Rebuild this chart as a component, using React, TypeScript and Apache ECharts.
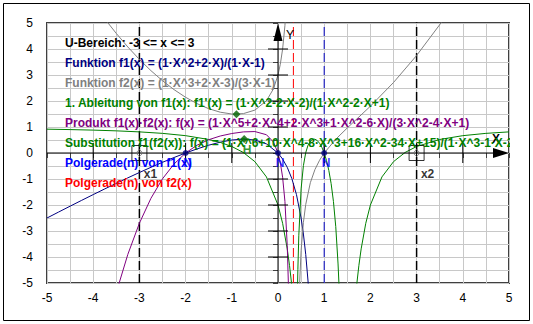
import React, { useEffect, useRef } from 'react';
import * as echarts from 'echarts';

// ---------- data ----------
const f1Points: [number, number][] = [
  [-5, -2.5], [-4.75, -2.2717], [-4.5, -2.0455], [-4.25, -1.8214], [-4, -1.6], [-3.75, -1.3816],
  [-3.5, -1.1667], [-3.25, -0.9559], [-3, -0.75], [-2.75, -0.55], [-2.5, -0.3571], [-2.25, -0.1731],
  [-2, 0], [-1.75, 0.1591], [-1.5, 0.3], [-1.25, 0.4167], [-1, 0.5], [-0.75, 0.5357], [-0.5, 0.5],
  [-0.25, 0.35], [0, 0], [0.1, -0.2333], [0.2, -0.55], [0.3, -0.9857], [0.4, -1.6], [0.5, -2.5],
  [0.55, -3.1167], [0.6, -3.9], [0.65, -4.9214], [0.7, -6.3],
];
const f2LeftPoints: [number, number][] = [
  [-3.75, 5.16], [-3.5, 4.598], [-3.25, 4.077], [-3, 3.6], [-2.75, 3.167], [-2.5, 2.779],
  [-2.25, 2.4375], [-2, 2.1429], [-1.75, 1.8975], [-1.5, 1.7045], [-1.25, 1.569], [-1, 1.5],
  [-0.75, 1.5144], [-0.5, 1.65], [-0.25, 2.0089], [-0.1, 2.4623], [0, 3], [0.05, 3.4116],
  [0.1, 3.9986], [0.15, 4.903], [0.2, 6.48],
];
const f2RightPoints: [number, number][] = [
  [0.4, -10.68], [0.45, -5.74], [0.5, -3.75], [0.55, -2.667], [0.6, -1.98], [0.7, -1.1427],
  [0.8, -0.6343], [0.9, -0.277], [1, 0], [1.25, 0.5284], [1.5, 0.9643], [2, 1.8], [2.5, 2.7115],
  [3, 3.75], [3.5, 4.934], [3.75, 5.584],
];
const derivLeftPoints: [number, number][] = [
  [-5, 0.9167], [-4.5, 0.9008], [-4, 0.88], [-3.5, 0.8519], [-3, 0.8125], [-2.5, 0.7551],
  [-2, 0.6667], [-1.5, 0.52], [-1.25, 0.4074], [-1, 0.25], [-0.75, 0.0204], [-0.5, -0.3333],
  [-0.25, -0.92], [0, -2], [0.1, -2.7037], [0.2, -3.6875], [0.25, -4.3333], [0.3, -5.1224], [0.35, -6.1],
];
const derivRightPoints: [number, number][] = [
  [1.65, -6.1], [1.7, -5.1224], [1.75, -4.3333], [1.8, -3.6875], [1.9, -2.7037], [2, -2],
  [2.25, -0.92], [2.5, -0.3333], [2.75, 0.0204], [3, 0.25], [3.5, 0.52], [4, 0.6667],
  [4.5, 0.7551], [5, 0.8125],
];
const productPoints: [number, number][] = [
  [-3.5, -5.364], [-3.25, -3.897], [-3, -2.7], [-2.75, -1.742], [-2.5, -0.9926], [-2.25, -0.4219],
  [-2, 0], [-1.75, 0.3019], [-1.5, 0.5114], [-1.25, 0.6538], [-1, 0.75], [-0.75, 0.8113],
  [-0.5, 0.825], [-0.25, 0.7031], [-0.1, 0.4253], [0, 0], [0.05, -0.3681], [0.1, -0.9327],
  [0.15, -1.8602], [0.2, -3.564], [0.225, -5.046],
];
const substPoints: [number, number][] = [
  [0.42, -5.355], [0.43, -4.4752], [0.45, -3.1847], [0.5, -1.3816], [0.55, -0.4852], [0.6, 0.0133],
  [0.65, 0.2998], [0.7, 0.4572], [0.75, 0.5268], [0.8, 0.5301], [0.85, 0.4778], [0.9, 0.3738],
  [0.95, 0.2167], [1, 0], [1.05, -0.2886], [1.1, -0.6696], [1.15, -1.1766], [1.2, -1.8651],
  [1.25, -2.8329], [1.3, -4.268], [1.32, -5.0503],
];
const domainBounds = [-3, 3];
const domainLabels = ['x1', 'x2'];
const polesF1 = [1];
const polesF2 = [0.3333];
const zeroPoints: [number, number][] = [[-2, 0], [0, 0], [1, 0]];
const maxPointF1: [number, number] = [-0.732, 0.536];
const minPointF2: [number, number] = [-0.9, 1.49];
const axisTickValues = [-4, -3, -2, -1, 1, 2, 3, 4];

const legendLines = [
  { text: 'U-Bereich: -3 <= x <= 3', color: '#000000' },
  { text: 'Funktion f1(x) = (1·X^2+2·X)/(1·X-1)', color: '#000080' },
  { text: 'Funktion f2(x) = (1·X^3+2·X-3)/(3·X-1)', color: '#808080' },
  { text: "1. Ableitung von f1(x): f1'(x) = (1·X^2-2·X-2)/(1·X^2-2·X+1)", color: '#008000' },
  { text: 'Produkt f1(x)·f2(x): f(x) = (1·X^5+2·X^4+2·X^3+1·X^2-6·X)/(3·X^2-4·X+1)', color: '#800080' },
  { text: 'Substitution f1(f2(x)): f(x) = (1·X^6+10·X^4-8·X^3+16·X^2-34·X+15)/(1·X^3-1·X-2)/(3·X-1)', color: '#008000' },
  { text: 'Polgerade(n) von f1(x)', color: '#0000ff' },
  { text: 'Polgerade(n) von f2(x)', color: '#ff0000' },
];

const FONT = '"Liberation Sans", Arial, sans-serif';

function curve(data: [number, number][], color: string) {
  return {
    type: 'line', data, showSymbol: false, symbol: 'none', silent: true, clip: true,
    lineStyle: { color, width: 1 }, z: 3,
  };
}
function vline(x: number, color: string, width: number) {
  return {
    type: 'line', data: [[x, -6], [x, 6]], showSymbol: false, symbol: 'none', silent: true, clip: true,
    lineStyle: { color, width, type: [9, 4] }, z: 2,
  };
}

export default function App() {
  const ref = useRef<HTMLDivElement>(null);
  useEffect(() => {
    document.body.style.margin = '0';
    const chart = echarts.init(ref.current!, null, { renderer: 'svg' });
    const axisCommon = {
      type: 'value', min: -5, max: 5, interval: 1,
      axisLine: { show: false },
      axisTick: { show: true, length: 5, lineStyle: { color: '#404040' } },
      minorTick: { show: true, splitNumber: 2, length: 5, lineStyle: { color: '#404040' } },
      splitLine: { show: true, lineStyle: { color: '#c8c8c8', width: 1 } },
      minorSplitLine: { show: true, lineStyle: { color: '#c8c8c8', width: 1 } },
    };
    const option: any = {
      animation: false,
      backgroundColor: '#ffffff',
      grid: { left: 47, right: 24, top: 23, bottom: 41, show: true, borderColor: '#404040', borderWidth: 2, backgroundColor: '#ffffff' },
      xAxis: {
        ...axisCommon,
        axisLabel: { margin: 9, color: '#000', fontSize: 12, fontFamily: FONT },
      },
      yAxis: {
        ...axisCommon,
        axisLabel: { margin: 14, color: '#000', fontSize: 12, fontFamily: FONT },
      },
      graphic: [
        ...legendLines.map((l, i) => ({
          type: 'text', x: 65, y: 43 + i * 20, z: 10,
          style: { text: l.text, fill: l.color, font: `bold 12px ${FONT}`, verticalAlign: 'middle' },
        })),
        { type: 'rect', shape: { x: 510, y: 128, width: 23, height: 28 }, style: { fill: '#ffffff' }, z: 11 },
        { type: 'rect', shape: { x: 3.5, y: 3.5, width: 526, height: 317 }, style: { fill: 'none', stroke: '#000', lineWidth: 1 }, z: 12 },
      ],
      series: [
        ...domainBounds.map((x) => vline(x, '#000000', 1.5)),
        ...polesF2.map((x) => vline(x, '#ff0000', 1)),
        ...polesF1.map((x) => vline(x, '#0000c0', 1)),
        curve(f1Points, '#000080'),
        curve(f2LeftPoints, '#808080'),
        curve(f2RightPoints, '#808080'),
        curve(derivLeftPoints, '#008000'),
        curve(derivRightPoints, '#008000'),
        curve(productPoints, '#800080'),
        curve(substPoints, '#008000'),
        {
          type: 'custom', silent: true, z: 4, data: [0],
          renderItem: (_p: any, api: any) => {
            const o = api.coord([0, 0]);
            const l = api.coord([-5, 0]);
            const r = api.coord([5, 0]);
            const t = api.coord([0, 5]);
            const b = api.coord([0, -5]);
            const st = { stroke: '#000', lineWidth: 1 };
            const children: any[] = [
              { type: 'line', shape: { x1: l[0], y1: o[1], x2: r[0] - 6, y2: o[1] }, style: st },
              { type: 'line', shape: { x1: o[0], y1: b[1], x2: o[0], y2: t[1] + 6 }, style: st },
              { type: 'polygon', shape: { points: [[r[0], o[1]], [r[0] - 16, o[1] - 5], [r[0] - 16, o[1] + 5]] }, style: { fill: '#000' } },
              { type: 'polygon', shape: { points: [[o[0], t[1]], [o[0] - 4.5, t[1] + 18], [o[0] + 4.5, t[1] + 18]] }, style: { fill: '#000' } },
              { type: 'text', x: o[0] + 12, y: t[1] + 12, style: { text: 'Y', fill: '#000', font: `12px ${FONT}`, align: 'center', verticalAlign: 'middle' } },
              { type: 'text', x: r[0] - 13, y: o[1] - 14, style: { text: 'X', fill: '#000', font: `bold 12px ${FONT}`, align: 'center', verticalAlign: 'middle' } },
            ];
            axisTickValues.forEach((v) => {
              const px = api.coord([v, 0]);
              children.push({ type: 'line', shape: { x1: px[0], y1: px[1] - 10, x2: px[0], y2: px[1] + 10 }, style: st });
              const py = api.coord([0, v]);
              children.push({ type: 'line', shape: { x1: py[0] - 10, y1: py[1], x2: py[0] + 10, y2: py[1] }, style: st });
            });
            return { type: 'group', children };
          },
        },
        {
          type: 'scatter', z: 5, silent: true, data: zeroPoints, symbol: 'circle', symbolSize: 6,
          itemStyle: { color: '#000080' },
          label: { show: true, formatter: 'N', position: 'bottom', distance: 1, offset: [2, 0], color: '#0000ff', fontWeight: 'bold', fontSize: 12, fontFamily: FONT },
        },
        {
          type: 'scatter', z: 5, silent: true, data: [maxPointF1], symbol: 'diamond', symbolSize: 8,
          itemStyle: { color: '#006400' },
          label: { show: true, formatter: 'H', position: 'bottom', distance: 1, offset: [3, 0], color: '#008000', fontWeight: 'bold', fontSize: 12, fontFamily: FONT },
        },
        {
          type: 'scatter', z: 5, silent: true, data: [minPointF2], symbol: 'diamond', symbolSize: 8,
          itemStyle: { color: '#006400' },
        },
        {
          type: 'scatter', z: 5, silent: true,
          data: domainBounds.map((x, i) => ({ value: [x, 0], name: domainLabels[i] })),
          symbol: 'rect', symbolSize: 15,
          itemStyle: { color: 'rgba(0,0,0,0)', borderColor: '#000', borderWidth: 1 },
          label: { show: true, formatter: '{b}', position: 'inside', offset: [11, 21], color: '#000', fontWeight: 'bold', fontSize: 12, fontFamily: FONT },
        },
        {
          type: 'scatter', z: 5, silent: true, data: domainBounds.map((x) => [x, 0]),
          symbol: 'diamond', symbolSize: 7,
          itemStyle: { color: 'rgba(0,0,0,0)', borderColor: '#707070', borderWidth: 1 },
        },
      ],
    };
    chart.setOption(option);
    return () => chart.dispose();
  }, []);
  return <div ref={ref} style={{ width: 533, height: 324, background: '#fff' }} />;
}
